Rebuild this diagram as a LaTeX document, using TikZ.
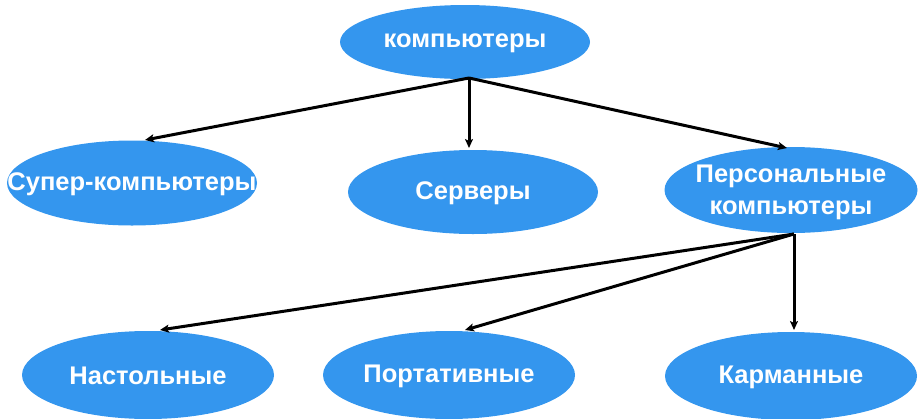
\documentclass[tikz,border=0pt]{standalone}
\usepackage{fontspec}
\setmainfont{Liberation Sans}
\usetikzlibrary{shapes.geometric,arrows.meta}
\definecolor{ebl}{RGB}{52,150,238}
\tikzset{
  ell/.style={ellipse, fill=ebl, draw=none, inner sep=0pt},
  lbl/.style={text=white, inner sep=0pt,
    font=\fontsize{25.5}{32}\selectfont\bfseries, align=center},
  conn/.style={line width=3pt, draw=black, -{Stealth[length=9pt,width=8pt,inset=2pt]}}
}
\begin{document}
\begin{tikzpicture}[x=1pt,y=-1pt]
\useasboundingbox (0,0) rectangle (918,418);
\node[ell, minimum width=250pt, minimum height=74pt] (comp) at (465,42) {};
\node[ell, minimum width=250pt, minimum height=85pt] (super) at (132,183) {};
\node[ell, minimum width=250pt, minimum height=84pt] (serv) at (473,192) {};
\node[ell, minimum width=253pt, minimum height=86pt] (pers) at (791,190) {};
\node[ell, minimum width=252pt, minimum height=88pt] (desk) at (148,375) {};
\node[ell, minimum width=252pt, minimum height=88pt] (port) at (449,375) {};
\node[ell, minimum width=252pt, minimum height=88pt] (pock) at (791,376) {};
\node[lbl] (tcomp) at ([yshift=-1pt]comp) {компьютеры};
\node[lbl] (tsuper) at ([yshift=-1pt]super) {Супер-компьютеры};
\node[lbl] (tserv) at ([yshift=-1pt]serv) {Серверы};
\node[lbl] (tpers) at ([yshift=-2pt]pers) {Персональные\\компьютеры};
\node[lbl] (tdesk) at ([yshift=-1pt]desk) {Настольные};
\node[lbl] (tport) at ([yshift=-1pt]port) {Портативные};
\node[lbl] (tpock) at ([yshift=-1pt]pock) {Карманные};
\coordinate (ct) at (469,78);
\coordinate (pt) at (794,234);
\coordinate (e1) at (145,140);
\coordinate (e2) at (469,148);
\coordinate (e3) at (787,148);
\coordinate (e4) at (160,330);
\coordinate (e5) at (465,330);
\coordinate (e6) at (794,330);
\draw[conn] (ct) -- (e1);
\draw[conn] (ct) -- (e2);
\draw[conn] (ct) -- (e3);
\draw[conn] (pt) -- (e4);
\draw[conn] (pt) -- (e5);
\draw[conn] (pt) -- (e6);
\end{tikzpicture}
\end{document}
